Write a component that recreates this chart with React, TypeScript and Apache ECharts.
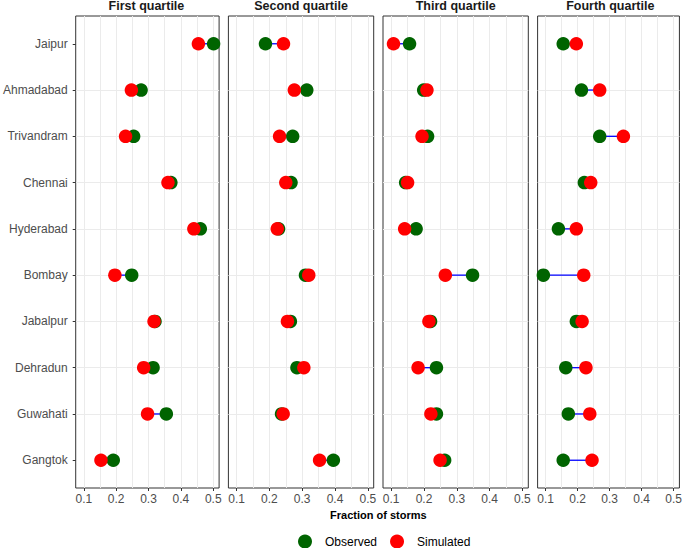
import React, { useEffect, useRef } from 'react';
import * as echarts from 'echarts';

const cities = ['Jaipur', 'Ahmadabad', 'Trivandram', 'Chennai', 'Hyderabad', 'Bombay', 'Jabalpur', 'Dehradun', 'Guwahati', 'Gangtok'];
const quartiles = ['First quartile', 'Second quartile', 'Third quartile', 'Fourth quartile'];

const observedQ1 = [0.501, 0.277, 0.254, 0.369, 0.46, 0.248, 0.32, 0.314, 0.355, 0.191];
const simulatedQ1 = [0.454, 0.247, 0.229, 0.36, 0.44, 0.196, 0.317, 0.285, 0.297, 0.153];
const observedQ2 = [0.188, 0.314, 0.271, 0.266, 0.228, 0.31, 0.264, 0.284, 0.237, 0.395];
const simulatedQ2 = [0.243, 0.276, 0.231, 0.25, 0.224, 0.32, 0.255, 0.305, 0.242, 0.353];
const observedQ3 = [0.156, 0.199, 0.211, 0.144, 0.176, 0.348, 0.22, 0.238, 0.238, 0.263];
const simulatedQ3 = [0.107, 0.209, 0.194, 0.15, 0.141, 0.265, 0.215, 0.182, 0.221, 0.249];
const observedQ4 = [0.155, 0.212, 0.269, 0.221, 0.14, 0.093, 0.196, 0.163, 0.171, 0.155];
const simulatedQ4 = [0.196, 0.269, 0.343, 0.241, 0.196, 0.219, 0.214, 0.226, 0.238, 0.245];

const xTickLabels = [0.1, 0.2, 0.3, 0.4, 0.5];
const observedAll = [observedQ1, observedQ2, observedQ3, observedQ4];
const simulatedAll = [simulatedQ1, simulatedQ2, simulatedQ3, simulatedQ4];

const FONT = '"Liberation Sans", Arial, sans-serif';
const PANEL_LEFT = 73.8;
const PANEL_STEP = 154.6;
const PANEL_W = 145.3;
const PANEL_TOP = 16;
const PANEL_H = 472;
const X_MIN = 0.075;
const X_MAX = 0.518;

export default function App() {
  const ref = useRef<HTMLDivElement>(null);
  useEffect(() => {
    if (!ref.current) return;
    const chart = echarts.init(ref.current, null, { renderer: 'svg' });
    const grids: any[] = [];
    const xAxes: any[] = [];
    const yAxes: any[] = [];
    const series: any[] = [];
    const graphics: any[] = [];
    const catIdx = cities.map((_, i) => i);

    quartiles.forEach((q, k) => {
      const left = PANEL_LEFT + PANEL_STEP * k;
      grids.push({
        left, top: PANEL_TOP, width: PANEL_W, height: PANEL_H,
        show: true, borderColor: '#333333', borderWidth: 1, backgroundColor: '#ffffff', containLabel: false,
      });
      // data axis with grid lines
      xAxes.push({
        type: 'value', gridIndex: k, min: X_MIN, max: X_MAX, position: 'bottom',
        minInterval: 0.05, maxInterval: 0.05,
        axisLine: { show: false }, axisTick: { show: false }, axisLabel: { show: false },
        splitLine: { show: true, showMinLine: false, showMaxLine: false, lineStyle: { color: '#EBEBEB', width: 1 } },
      });
      // ticks + labels axis
      xAxes.push({
        type: 'value', gridIndex: k, min: X_MIN, max: X_MAX, position: 'bottom',
        axisLine: { show: false },
        axisTick: { show: true, customValues: xTickLabels, length: 3, lineStyle: { color: '#333333', width: 1 } },
        axisLabel: { show: true, customValues: xTickLabels, margin: 5, color: '#4D4D4D', fontSize: 12, fontFamily: FONT,
          formatter: (v: number) => String(Math.round(v * 10) / 10) },
        splitLine: { show: false },
      });
      yAxes.push({
        type: 'value', gridIndex: k, inverse: true, min: -0.6, max: 9.6,
        minInterval: 1, maxInterval: 1,
        axisLine: { show: false },
        axisTick: { show: k === 0, customValues: catIdx, length: 3, lineStyle: { color: '#333333', width: 1 } },
        axisLabel: { show: k === 0, customValues: catIdx, margin: 8, color: '#4D4D4D', fontSize: 12, fontFamily: FONT,
          formatter: (v: number) => cities[Math.round(v)] ?? '' },
        splitLine: { show: true, showMinLine: false, showMaxLine: false, lineStyle: { color: '#EBEBEB', width: 1 } },
      });
      const obs = observedAll[k];
      const sim = simulatedAll[k];
      series.push({
        type: 'custom', name: 'segments', xAxisIndex: 2 * k, yAxisIndex: k,
        encode: { x: [0, 1], y: 2 },
        data: cities.map((_, i) => [obs[i], sim[i], i]),
        renderItem: (params: any, api: any) => {
          const p1 = api.coord([api.value(0), api.value(2)]);
          const p2 = api.coord([api.value(1), api.value(2)]);
          return {
            type: 'line',
            shape: { x1: p1[0], y1: p1[1], x2: p2[0], y2: p2[1] },
            style: { stroke: '#0000FF', lineWidth: 1.3 },
          };
        },
        z: 2,
      });
      series.push({
        type: 'scatter', name: 'Observed', xAxisIndex: 2 * k, yAxisIndex: k,
        data: cities.map((_, i) => [obs[i], i]),
        symbol: 'circle', symbolSize: 13.5,
        itemStyle: { color: '#006400', opacity: 1 },
        z: 3,
      });
      series.push({
        type: 'scatter', name: 'Simulated', xAxisIndex: 2 * k, yAxisIndex: k,
        data: cities.map((_, i) => [sim[i], i]),
        symbol: 'circle', symbolSize: 13.5,
        itemStyle: { color: '#FF0000', opacity: 1 },
        z: 4,
      });
      graphics.push({
        type: 'text', x: left + PANEL_W / 2, y: 6,
        style: { text: q, fontFamily: FONT, fontSize: 12.5, fontWeight: 'bold', fill: '#1A1A1A', textAlign: 'center', textVerticalAlign: 'middle' },
      });
    });

    graphics.push({
      type: 'text', x: 378.3, y: 515,
      style: { text: 'Fraction of storms', fontFamily: FONT, fontSize: 11, fontWeight: 'bold', fill: '#000000', textAlign: 'center', textVerticalAlign: 'middle' },
    });

    chart.setOption({
      animation: false,
      backgroundColor: '#ffffff',
      grid: grids,
      xAxis: xAxes,
      yAxis: yAxes,
      series,
      graphic: graphics,
      legend: {
        data: ['Observed', 'Simulated'],
        left: 298, top: 534.5, padding: 0,
        icon: 'circle', itemWidth: 14, itemHeight: 14, itemGap: 13,
        textStyle: { fontFamily: FONT, fontSize: 12, color: '#000000', padding: [0, 0, 0, 8] },
      },
    });
    return () => chart.dispose();
  }, []);
  return <div ref={ref} style={{ position: 'absolute', left: 0, top: 0, width: 685, height: 548 }} />;
}
